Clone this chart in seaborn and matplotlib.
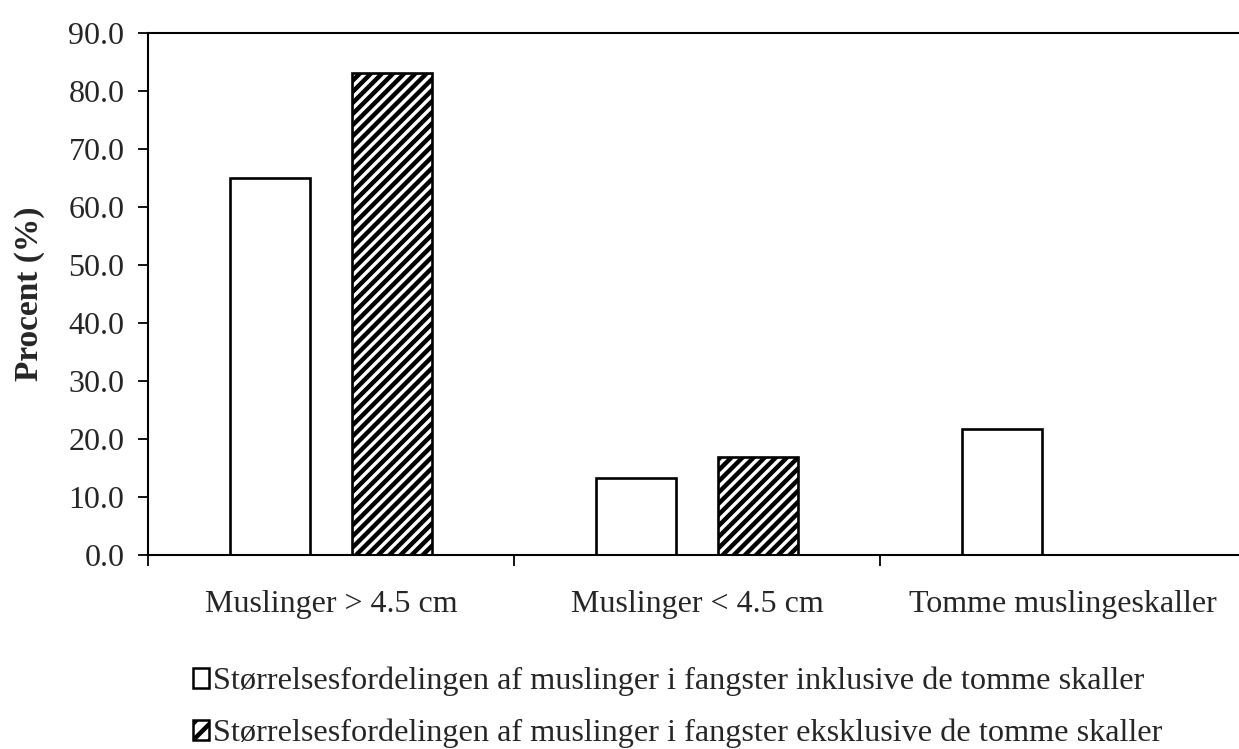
import matplotlib
matplotlib.use("Agg")
import matplotlib.pyplot as plt
import matplotlib.patches as mpatches
import seaborn as sns
import pandas as pd

categories = ["Muslinger > 4.5 cm", "Muslinger < 4.5 cm", "Tomme muslingeskaller"]
series_names = [
    "Størrelsesfordelingen af muslinger i fangster inklusive de tomme skaller",
    "Størrelsesfordelingen af muslinger i fangster eksklusive de tomme skaller",
]
inkl_values = [65.0, 13.2, 21.8]
ekskl_values = [83.1, 16.9, None]
y_ticks = [0, 10, 20, 30, 40, 50, 60, 70, 80, 90]

rows = []
for c, v in zip(categories, inkl_values):
    rows.append({"kategori": c, "serie": series_names[0], "procent": v})
for c, v in zip(categories, ekskl_values):
    if v is not None:
        rows.append({"kategori": c, "serie": series_names[1], "procent": v})
df = pd.DataFrame(rows)

sns.set_theme(style="white")
plt.rcParams["font.family"] = ["Liberation Serif", "DejaVu Serif"]
plt.rcParams["hatch.linewidth"] = 3.2
plt.rcParams["hatch.color"] = "black"

FS = 23

fig = plt.figure(figsize=(12.39, 7.49), dpi=100)
ax = fig.add_axes([148 / 1239, 194 / 749, 1098 / 1239, 522 / 749])

sns.barplot(
    data=df, x="kategori", y="procent", hue="serie",
    order=categories, hue_order=series_names,
    palette=["white", "white"], edgecolor="black", linewidth=1.9,
    width=0.667, gap=0.34, ax=ax, legend=False,
)

for p in ax.containers[1].patches:
    p.set_hatch("///")
    p.set_edgecolor("black")

ax.set_xlim(-0.5, 2.5)
ax.set_ylim(0, 90)
ax.set_yticks(y_ticks)
ax.set_yticklabels([f"{t:.1f}" for t in y_ticks], fontsize=FS)
ax.set_xticks([0, 1, 2])
ax.set_xticklabels(categories, fontsize=FS)
ax.set_xticks([-0.5, 0.5, 1.5, 2.5], minor=True)
ax.tick_params(axis="x", which="major", length=0, pad=25)
ax.tick_params(axis="x", which="minor", length=8, width=1.3, direction="out", color="black", bottom=True)
ax.tick_params(axis="y", which="major", length=7, width=1.3, direction="out", color="black", pad=10, left=True)

ax.set_xlabel("")
ax.set_ylabel("Procent (%)", fontsize=24, fontweight="bold", labelpad=17)

for s in ["left", "bottom", "top"]:
    ax.spines[s].set_visible(True)
    ax.spines[s].set_color("black")
    ax.spines[s].set_linewidth(1.5)
ax.spines["right"].set_visible(False)

handles = [
    mpatches.Patch(facecolor="white", edgecolor="black", linewidth=1.8),
    mpatches.Patch(facecolor="white", edgecolor="black", linewidth=1.8, hatch="//"),
]
fig.legend(
    handles, series_names, loc="center left", bbox_to_anchor=(193 / 1239, 41.5 / 749),
    frameon=False, fontsize=23.2, handlelength=0.5, handleheight=0.55,
    handletextpad=0.12, labelspacing=0.7, borderpad=0, borderaxespad=0,
)

fig.savefig("out.png", dpi=100)
